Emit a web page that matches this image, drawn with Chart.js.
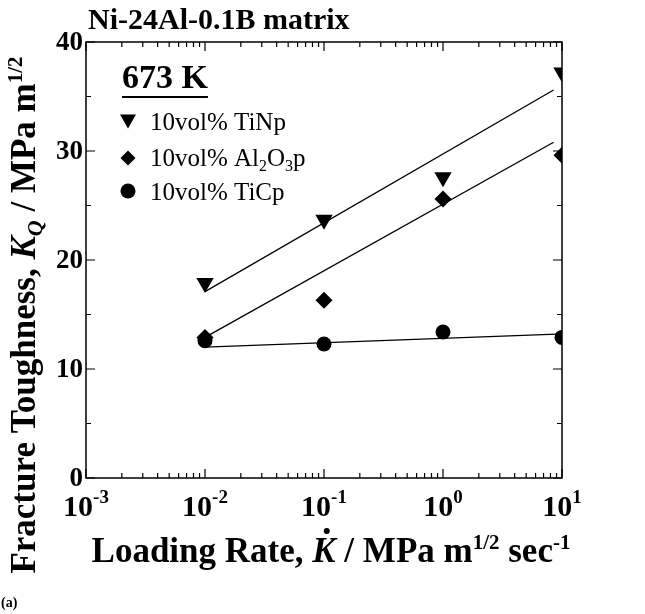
<!DOCTYPE html>
<html>
<head>
<meta charset="utf-8">
<script src="https://cdn.jsdelivr.net/npm/chart.js@4"></script>
<style>
  html, body { margin: 0; padding: 0; background: #fff; }
  #wrap { width: 645px; height: 614px; }
</style>
</head>
<body>
<div id="wrap"><canvas id="kqChart" width="645" height="614"></canvas></div>
<script>
// loading rates (MPa m^1/2 sec^-1)
const rates = [0.01, 0.1, 1, 10];
const tinValues = [17.9, 23.7, 27.6, 37.2];
const alValues = [12.9, 16.3, 25.6, 29.6];
const ticValues = [12.6, 12.3, 13.4, 12.9];

// fitted lines, end points
const tinFitX = [0.01, 8.5];
const tinFitY = [17.1, 35.6];
const alFitX = [0.01, 8.5];
const alFitY = [12.9, 30.8];
const ticFitX = [0.01, 9];
const ticFitY = [12.0, 13.2];

const xExponents = [-3, -2, -1, 0, 1];
const yTicks = [0, 10, 20, 30, 40];

const serif = '"Liberation Serif", "Times New Roman", serif';

const toPts = (xs, ys) => xs.map((x, i) => ({ x: x, y: ys[i] }));

// draw a run of text pieces (different fonts, raised / lowered)
function drawRich(ctx, parts, x, y, align) {
  let total = 0;
  parts.forEach(p => { ctx.font = p.font; total += ctx.measureText(p.t).width; });
  let cx = align === 'center' ? x - total / 2 : (align === 'right' ? x - total : x);
  parts.forEach(p => {
    ctx.font = p.font;
    ctx.fillText(p.t, cx, y + (p.dy || 0));
    const w = ctx.measureText(p.t).width;
    if (p.dot) {
      ctx.beginPath();
      ctx.arc(cx + w * 0.62, y - 31, 3, 0, Math.PI * 2);
      ctx.fill();
    }
    cx += w;
  });
  return total;
}

function marker(ctx, style, x, y, r) {
  ctx.beginPath();
  if (style === 'tri') {
    ctx.moveTo(x - r, y - r * 0.8);
    ctx.lineTo(x + r, y - r * 0.8);
    ctx.lineTo(x, y + r * 0.95);
  } else if (style === 'dia') {
    ctx.moveTo(x, y - r);
    ctx.lineTo(x + r, y);
    ctx.lineTo(x, y + r);
    ctx.lineTo(x - r, y);
  } else {
    ctx.arc(x, y, r, 0, Math.PI * 2);
  }
  ctx.closePath();
  ctx.fill();
}

const decorations = {
  id: 'decorations',
  afterDraw(chart) {
    const ctx = chart.ctx;
    const a = chart.chartArea;
    const xs = chart.scales.x;
    const ys = chart.scales.y;
    ctx.save();
    ctx.fillStyle = '#000';
    ctx.strokeStyle = '#000';

    // frame
    ctx.lineWidth = 1.5;
    ctx.strokeRect(a.left, a.top, a.right - a.left, a.bottom - a.top);

    // inward ticks, x (log)
    ctx.lineWidth = 1.2;
    ctx.beginPath();
    for (let e = -3; e <= 1; e++) {
      for (let m = 1; m <= 9; m++) {
        const v = m * Math.pow(10, e);
        if (v > 10.0001) break;
        const px = xs.getPixelForValue(v);
        const len = m === 1 ? 9 : 5;
        ctx.moveTo(px, a.bottom); ctx.lineTo(px, a.bottom - len);
        ctx.moveTo(px, a.top); ctx.lineTo(px, a.top + len);
      }
    }
    // y ticks
    for (let v = 0; v <= 40; v += 5) {
      const py = ys.getPixelForValue(v);
      const len = v % 10 === 0 ? 9 : 5;
      ctx.moveTo(a.left, py); ctx.lineTo(a.left + len, py);
      ctx.moveTo(a.right, py); ctx.lineTo(a.right - len, py);
    }
    ctx.stroke();

    // x tick labels 10^n
    ctx.textBaseline = 'alphabetic';
    xExponents.forEach(e => {
      const px = xs.getPixelForValue(Math.pow(10, e));
      drawRich(ctx, [
        { t: '10', font: 'bold 30px ' + serif },
        { t: String(e), font: 'bold 19px ' + serif, dy: -13 }
      ], px, a.bottom + 38, 'center');
    });

    // y tick labels
    ctx.textBaseline = 'middle';
    ctx.textAlign = 'right';
    ctx.font = 'bold 27px ' + serif;
    yTicks.forEach(v => {
      ctx.fillText(String(v), a.left - 3, ys.getPixelForValue(v) + 1);
    });
    ctx.textAlign = 'left';
    ctx.textBaseline = 'alphabetic';

    // top label
    ctx.font = 'bold 30px ' + serif;
    ctx.fillText('Ni-24Al-0.1B matrix', 88, 29);

    // x axis title
    drawRich(ctx, [
      { t: 'Loading Rate, ', font: 'bold 35px ' + serif },
      { t: 'K', font: 'bold italic 35px ' + serif, dot: true },
      { t: ' / MPa m', font: 'bold 35px ' + serif },
      { t: '1/2', font: 'bold 21px ' + serif, dy: -13 },
      { t: ' sec', font: 'bold 35px ' + serif },
      { t: '-1', font: 'bold 21px ' + serif, dy: -13 }
    ], 331, 562, 'center');

    // y axis title
    ctx.save();
    ctx.translate(35, 315);
    ctx.rotate(-Math.PI / 2);
    drawRich(ctx, [
      { t: 'Fracture Toughness, ', font: 'bold 35px ' + serif },
      { t: 'K', font: 'bold italic 35px ' + serif },
      { t: 'Q', font: 'bold italic 22px ' + serif, dy: 7 },
      { t: ' / MPa m', font: 'bold 35px ' + serif },
      { t: '1/2', font: 'bold 21px ' + serif, dy: -13 }
    ], 0, 0, 'center');
    ctx.restore();

    // panel letter
    ctx.font = 'bold 14px ' + serif;
    ctx.fillText('(a)', 1, 607);

    // temperature
    ctx.font = 'bold 34px ' + serif;
    const tw = ctx.measureText('673 K').width;
    ctx.fillText('673 K', 122, 88);
    ctx.lineWidth = 1.8;
    ctx.beginPath();
    ctx.moveTo(122, 97); ctx.lineTo(122 + tw, 97);
    ctx.stroke();

    // legend
    const lx = 128, tx = 150;
    marker(ctx, 'tri', lx, 121, 8);
    ctx.font = '25px ' + serif;
    ctx.fillText('10vol% TiNp', tx, 130);
    marker(ctx, 'dia', lx, 158, 7.5);
    drawRich(ctx, [
      { t: '10vol% Al', font: '25px ' + serif },
      { t: '2', font: '16px ' + serif, dy: 5 },
      { t: 'O', font: '25px ' + serif },
      { t: '3', font: '16px ' + serif, dy: 5 },
      { t: 'p', font: '25px ' + serif }
    ], tx, 166, 'left');
    marker(ctx, 'circ', lx, 191, 7.5);
    ctx.font = '25px ' + serif;
    ctx.fillText('10vol% TiCp', tx, 200);

    ctx.restore();
  }
};

const lineStyle = { showLine: true, pointRadius: 0, borderColor: '#000', borderWidth: 1.3, fill: false };
const markStyle = { showLine: false, backgroundColor: '#000', borderColor: '#000', borderWidth: 0, pointHoverRadius: 8 };

new Chart(document.getElementById('kqChart'), {
  type: 'scatter',
  data: {
    datasets: [
      Object.assign({ label: 'fit TiN', data: toPts(tinFitX, tinFitY) }, lineStyle),
      Object.assign({ label: 'fit Al2O3', data: toPts(alFitX, alFitY) }, lineStyle),
      Object.assign({ label: 'fit TiC', data: toPts(ticFitX, ticFitY) }, lineStyle),
      Object.assign({ label: '10vol% TiNp', data: toPts(rates, tinValues), pointStyle: 'triangle', rotation: 180, pointRadius: 10 }, markStyle),
      Object.assign({ label: '10vol% Al2O3p', data: toPts(rates, alValues), pointStyle: 'rectRot', pointRadius: 8.5 }, markStyle),
      Object.assign({ label: '10vol% TiCp', data: toPts(rates, ticValues), pointStyle: 'circle', pointRadius: 7.5 }, markStyle)
    ]
  },
  options: {
    responsive: false,
    animation: false,
    layout: { padding: { left: 86, right: 83, top: 42, bottom: 136 } },
    plugins: { legend: { display: false }, tooltip: { enabled: false } },
    scales: {
      x: {
        type: 'logarithmic', min: 0.001, max: 10,
        grid: { display: false, drawTicks: false },
        border: { display: false },
        ticks: { display: false },
        afterFit: s => { s.height = 0; }
      },
      y: {
        min: 0, max: 40,
        grid: { display: false, drawTicks: false },
        border: { display: false },
        ticks: { display: false },
        afterFit: s => { s.width = 0; }
      }
    }
  },
  plugins: [decorations]
});
</script>
</body>
</html>
